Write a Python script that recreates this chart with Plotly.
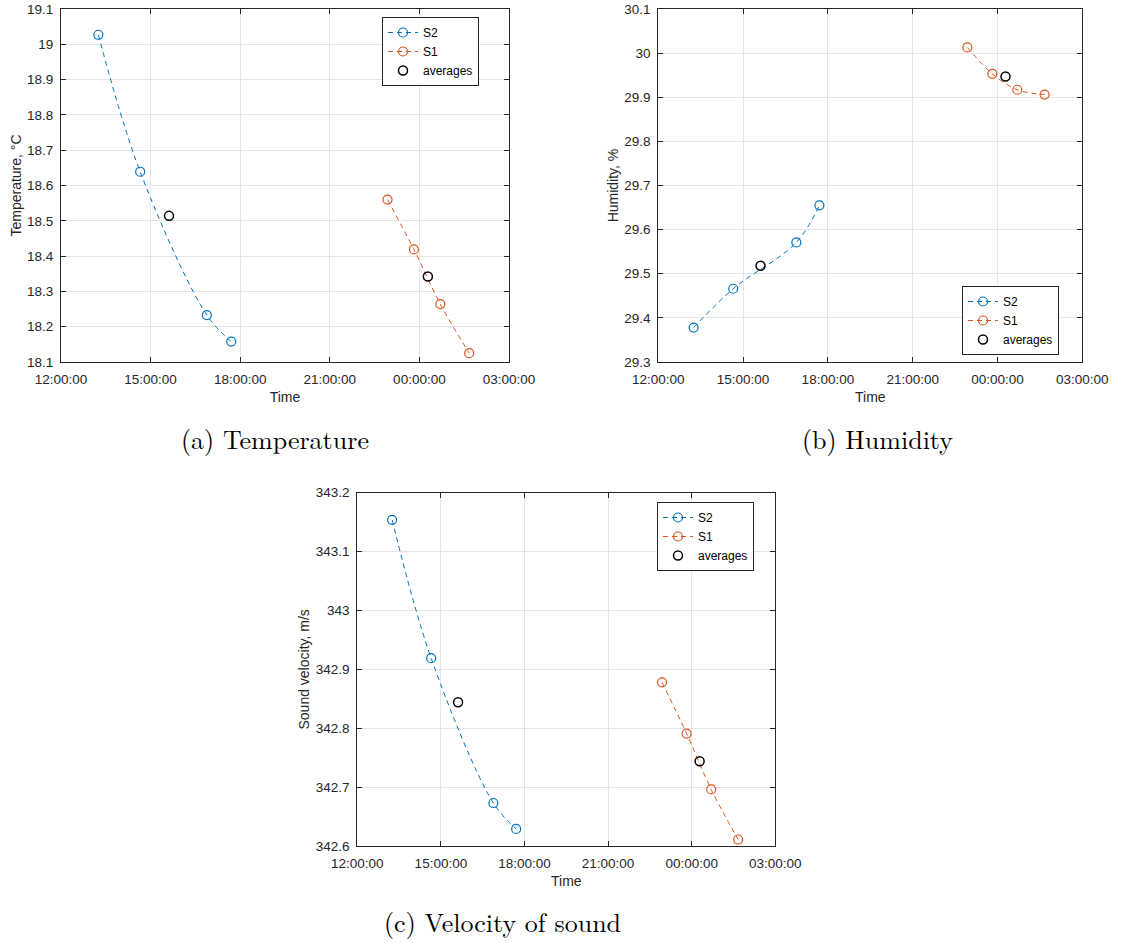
import plotly.graph_objects as go

# ---- data ----
s2_times = ["2020-01-01 13:15", "2020-01-01 14:39", "2020-01-01 16:53", "2020-01-01 17:42"]
s1_times = ["2020-01-01 22:56", "2020-01-01 23:49", "2020-01-02 00:42", "2020-01-02 01:40"]
avg_times = ["2020-01-01 15:37", "2020-01-02 00:17"]

temp_s2 = [19.027, 18.639, 18.233, 18.158]
temp_s1 = [18.560, 18.419, 18.264, 18.125]
temp_avg = [18.514, 18.342]

hum_s2 = [29.378, 29.466, 29.571, 29.655]
hum_s1 = [30.013, 29.953, 29.917, 29.906]
hum_avg = [29.518, 29.947]

vel_s2 = [343.154, 342.919, 342.673, 342.629]
vel_s1 = [342.878, 342.791, 342.696, 342.611]
vel_avg = [342.844, 342.744]

x_range = ["2020-01-01 12:00", "2020-01-02 03:00"]

BLUE = "#0072BD"
ORANGE = "#D95319"
W, H = 1143, 943

panels = [
    dict(s2=temp_s2, s1=temp_s1, avg=temp_avg, yr=[18.1, 19.1], dt=0.1,
         title="Temperature, °C", box=(61, 509, 9, 362), leg=(382, 17, "top"), leg_name="legend"),
    dict(s2=hum_s2, s1=hum_s1, avg=hum_avg, yr=[29.3, 30.1], dt=0.1,
         title="Humidity, %", box=(658.3, 1082.3, 9, 362), leg=(962, 355, "bottom"), leg_name="legend2"),
    dict(s2=vel_s2, s1=vel_s1, avg=vel_avg, yr=[342.6, 343.2], dt=0.1,
         title="Sound velocity, m/s", box=(357.3, 775.3, 492.7, 846), leg=(657, 502, "top"), leg_name="legend3"),
]

DASH = "5px,4px"
fig = go.Figure()
layout = dict(width=W, height=H, margin=dict(l=0, r=0, t=0, b=0, autoexpand=False),
              paper_bgcolor="white", plot_bgcolor="white",
              font=dict(family="Liberation Sans, Arial, sans-serif", size=13, color="#262626"))

for i, p in enumerate(panels):
    n = "" if i == 0 else str(i + 1)
    xa, ya = "x" + n, "y" + n
    common = dict(xaxis=xa, yaxis=ya, legend=p["leg_name"])
    fig.add_trace(go.Scatter(x=s2_times, y=p["s2"], name="S2", mode="lines+markers",
                             line=dict(color=BLUE, width=1, dash=DASH, shape="spline"),
                             marker=dict(symbol="circle-open", size=9, color=BLUE, line=dict(width=1.2)),
                             **common))
    fig.add_trace(go.Scatter(x=s1_times, y=p["s1"], name="S1", mode="lines+markers",
                             line=dict(color=ORANGE, width=1, dash=DASH, shape="spline"),
                             marker=dict(symbol="circle-open", size=9, color=ORANGE, line=dict(width=1.2)),
                             **common))
    fig.add_trace(go.Scatter(x=avg_times, y=p["avg"], name="averages", mode="markers",
                             marker=dict(symbol="circle-open", size=9, color="black", line=dict(width=1.5)),
                             **common))
    x0, x1, y0, y1 = p["box"]
    axis_common = dict(showline=True, linecolor="#262626", linewidth=1, mirror="ticks",
                       ticks="inside", ticklen=5, tickcolor="#262626", automargin=False,
                       showgrid=True, gridcolor="#e5e5e5", gridwidth=1, zeroline=False,
                       tickfont=dict(size=13.5, color="#262626"))
    layout["xaxis" + n] = dict(type="date", range=x_range, domain=[x0 / W, x1 / W],
                               anchor=ya, dtick=3 * 3600 * 1000, tickformat="%H:%M:%S",
                               tick0="2020-01-01 12:00", ticklabelstandoff=5,
                               title=dict(text="Time", font=dict(size=14, color="#262626"), standoff=5),
                               **axis_common)
    layout["yaxis" + n] = dict(range=p["yr"], domain=[1 - y1 / H, 1 - y0 / H], anchor=xa,
                               dtick=p["dt"], tickformat="~g", ticklabelstandoff=4,
                               title=dict(text=p["title"], font=dict(size=14, color="#262626"), standoff=2),
                               **axis_common)
    lx, ly, lanchor = p["leg"]
    layout[p["leg_name"]] = dict(x=lx / W, y=1 - ly / H, xanchor="left", yanchor=lanchor,
                                 bordercolor="#262626", borderwidth=1, bgcolor="white",
                                 font=dict(size=12, color="black"), tracegroupgap=0,
                                 itemwidth=30)

caption_font = dict(family="Latin Modern Roman, CMU Serif, DejaVu Serif, serif", size=26, color="black")
layout["annotations"] = [
    dict(text="(a) Temperature", x=275 / W, y=1 - 438 / H, xref="paper", yref="paper",
         showarrow=False, font=caption_font, xanchor="center", yanchor="middle"),
    dict(text="(b) Humidity", x=877 / W, y=1 - 438 / H, xref="paper", yref="paper",
         showarrow=False, font=caption_font, xanchor="center", yanchor="middle"),
    dict(text="(c) Velocity of sound", x=502 / W, y=1 - 921 / H, xref="paper", yref="paper",
         showarrow=False, font=caption_font, xanchor="center", yanchor="middle"),
]
fig.update_layout(**layout)
fig.write_html("out.html")
